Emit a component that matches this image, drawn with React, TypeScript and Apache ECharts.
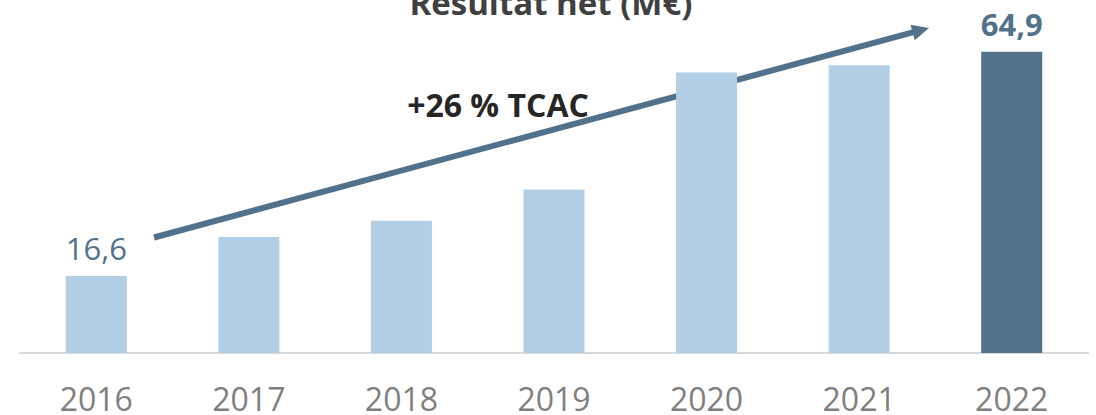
import React, { useEffect, useRef } from "react";
import * as echarts from "echarts";

const years = ["2016", "2017", "2018", "2019", "2020", "2021", "2022"];
const values = [16.6, 25.0, 28.5, 35.2, 60.4, 62.0, 64.9];
const labelText = ["16,6", "", "", "", "", "", "64,9"];
const titleText = "Résultat net (M€)";
const cagrText = "+26 % TCAC";

const LIGHT = "#b3cfe6";
const DARK = "#52728b";
const FONT = "'Open Sans', 'Noto Sans', sans-serif";

export default function App() {
  const ref = useRef<HTMLDivElement>(null);
  useEffect(() => {
    const chart = echarts.init(ref.current!, null, { renderer: "svg" });
    const tip = [929, 28];
    const start = [154, 237.5];
    const dx = tip[0] - start[0];
    const dy = tip[1] - start[1];
    const len = Math.sqrt(dx * dx + dy * dy);
    const ux = dx / len, uy = dy / len;
    const nx = -uy, ny = ux;
    const headL = 17, headW = 8;
    const bx = tip[0] - headL * ux, by = tip[1] - headL * uy;
    chart.setOption({
      animation: false,
      grid: { left: 20, right: 8, top: 28, bottom: 62 },
      xAxis: {
        type: "category",
        data: years,
        axisLine: { show: true, lineStyle: { color: "#d9d9d9", width: 2 } },
        axisTick: { show: false },
        axisLabel: { color: "#7f7f7f", fontSize: 32, fontFamily: FONT, margin: 29 },
      },
      yAxis: { type: "value", min: 0, max: 70, show: false, splitLine: { show: false } },
      series: [
        {
          type: "bar",
          barWidth: 61,
          data: values.map((v, i) => ({
            value: v,
            itemStyle: { color: i === values.length - 1 ? DARK : LIGHT },
            label: {
              show: labelText[i] !== "",
              position: "top",
              distance: 12,
              formatter: () => labelText[i],
              color: DARK,
              fontSize: 31,
              fontFamily: FONT,
              fontWeight: i === values.length - 1 ? "bold" : "normal",
            },
          })),
        },
      ],
      graphic: [
        {
          type: "text",
          x: 551,
          y: 2,
          style: {
            text: titleText,
            fill: "#404040",
            font: `bold 33px ${FONT}`,
            textAlign: "center",
            textVerticalAlign: "middle",
          },
        },
        {
          type: "text",
          x: 498,
          y: 104,
          style: {
            text: cagrText,
            fill: "#262626",
            font: `bold 32px ${FONT}`,
            textAlign: "center",
            textVerticalAlign: "middle",
          },
        },
        {
          type: "line",
          shape: { x1: start[0], y1: start[1], x2: bx + 2 * ux, y2: by + 2 * uy },
          style: { stroke: DARK, lineWidth: 6 },
        },
        {
          type: "polygon",
          shape: {
            points: [
              [tip[0], tip[1]],
              [bx + headW * nx, by + headW * ny],
              [bx - headW * nx, by - headW * ny],
            ],
          },
          style: { fill: DARK },
        },
      ],
    });
    return () => chart.dispose();
  }, []);
  return (
    <div
      ref={ref}
      style={{ position: "fixed", left: 0, top: 0, width: 1096, height: 415, background: "#fff" }}
    />
  );
}
